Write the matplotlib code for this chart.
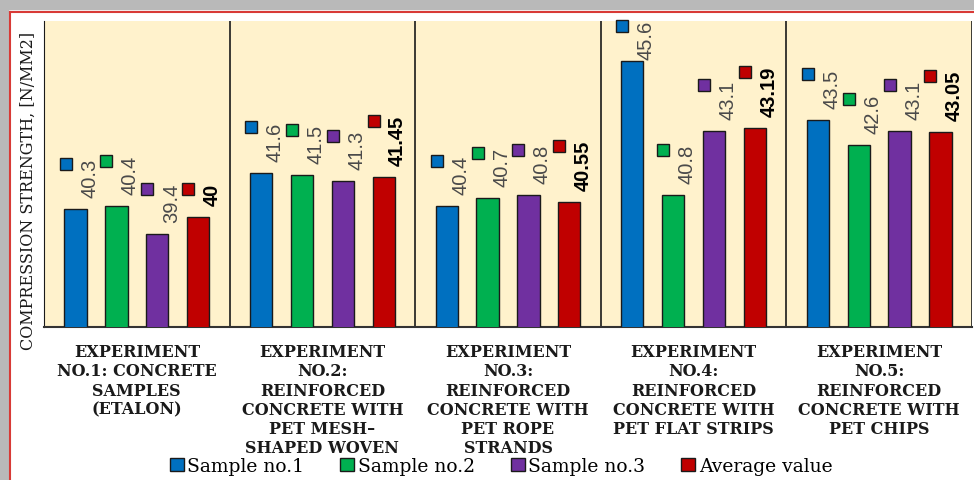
import matplotlib
matplotlib.use("Agg")
import matplotlib.pyplot as plt
import matplotlib.transforms as mtransforms
from matplotlib.patches import Patch, Rectangle
from matplotlib.lines import Line2D
import numpy as np

categories = [
    "EXPERIMENT\nNO.1: CONCRETE\nSAMPLES\n(ETALON)",
    "EXPERIMENT\nNO.2:\nREINFORCED\nCONCRETE WITH\nPET MESH\u2013\nSHAPED WOVEN",
    "EXPERIMENT\nNO.3:\nREINFORCED\nCONCRETE WITH\nPET ROPE\nSTRANDS",
    "EXPERIMENT\nNO.4:\nREINFORCED\nCONCRETE WITH\nPET FLAT STRIPS",
    "EXPERIMENT\nNO.5:\nREINFORCED\nCONCRETE WITH\nPET CHIPS",
]
series_names = ["Sample no.1", "Sample no.2", "Sample no.3", "Average value"]
sample1 = [40.3, 41.6, 40.4, 45.6, 43.5]
sample2 = [40.4, 41.5, 40.7, 40.8, 42.6]
sample3 = [39.4, 41.3, 40.8, 43.1, 43.1]
average = [40, 41.45, 40.55, 43.19, 43.05]
avg_labels = ["40", "41.45", "40.55", "43.19", "43.05"]
colors = ["#0070C0", "#00B050", "#7030A0", "#C00000"]

W, H = 974, 481
fig = plt.figure(figsize=(W / 100, H / 100), dpi=100)
fig.patch.set_facecolor("white")

# screenshot frame: grey band + thin red border
fig.patches.append(Rectangle((0, 1 - 10 / H), 1, 10 / H, transform=fig.transFigure,
                             color="#b9b9b9", zorder=0))
fig.patches.append(Rectangle((0, 0), 8 / W, 1 - 10 / H, transform=fig.transFigure,
                             color="#b9b9b9", zorder=0))
fig.lines.append(Line2D([10 / W, 1], [1 - 13 / H] * 2, transform=fig.transFigure,
                        color="#d83a36", lw=1.5))
fig.lines.append(Line2D([10 / W] * 2, [0, 1 - 13 / H], transform=fig.transFigure,
                        color="#d83a36", lw=1.5))

ax = fig.add_axes([44 / W, 1 - 328 / H, 928 / W, 306 / H])
ax.set_facecolor("#FFF2CC")

x = np.arange(len(categories))
offsets = [-0.33, -0.11, 0.11, 0.33]
series = [sample1, sample2, sample3, average]
labels = [[str(v) for v in s] for s in series[:3]] + [avg_labels]

texts = []
for i, (vals, col) in enumerate(zip(series, colors)):
    bars = ax.bar(x + offsets[i], vals, width=0.12, color=col,
                  edgecolor="#1a1a1a", linewidth=1, zorder=3)
    bold = i == 3
    for b, v, lab in zip(bars, vals, labels[i]):
        t = ax.annotate(lab, xy=(b.get_x() + b.get_width() / 2, v),
                        xytext=(14 * 0.72, 12 * 0.72), textcoords="offset points",
                        rotation=90, ha="center", va="bottom",
                        fontsize=14.5, family="Liberation Sans",
                        fontweight="bold" if bold else "normal",
                        color="black" if bold else "#4a4a4a", zorder=4)
        texts.append((t, b, col))

ax.set_xlim(-0.5, 4.5)
ax.set_ylim(36.07, 47.03)
ax.set_xticks([])
ax.set_yticks([])
for s in ["top", "right"]:
    ax.spines[s].set_visible(False)
ax.spines["left"].set_color("#1a1a1a")
ax.spines["bottom"].set_color("#333333")
ax.spines["bottom"].set_linewidth(1.5)
for xs in [0.5, 1.5, 2.5, 3.5, 4.5]:
    ax.axvline(xs, color="#1a1a1a", lw=1.2, zorder=2)

trans = mtransforms.blended_transform_factory(ax.transData, ax.transAxes)
for i, cat in enumerate(categories):
    ax.text(i, -0.053, cat, transform=trans, ha="center", va="top",
            fontsize=11.5, fontweight="bold", family="DejaVu Serif",
            linespacing=1.17, color="#1a1a1a")

fig.text(28 / W, 1 - 191 / H, "COMPRESSION STRENGTH, [N/MM2]", rotation=90,
         ha="center", va="center", family="DejaVu Serif", fontsize=11.5, color="#1a1a1a")

handles = [Patch(facecolor=c, edgecolor="#1a1a1a", linewidth=1) for c in colors]
fig.legend(handles, series_names, loc="center", bbox_to_anchor=(501 / W, 1 - 467 / H),
           ncol=4, frameon=False, prop={"family": "DejaVu Serif", "size": 13.5},
           handlelength=0.75, handleheight=0.75, handletextpad=0.2,
           columnspacing=1.9, borderpad=0)

# legend-key squares next to the rotated data labels
fig.canvas.draw()
top_px = ax.transAxes.transform((0, 1))[1]
inv = ax.transData.inverted()
for t, b, col in texts:
    bb = t.get_window_extent()
    top = bb.y1
    if top > top_px + 1:
        shift = top - (top_px + 1)
        ox, oy = t.xyann
        t.xyann = (ox, oy - shift * 0.72)
        top = top_px + 1
    cx = ax.transData.transform((b.get_x() + b.get_width() / 2, 0))[0] - 10
    mx, my = inv.transform((cx, top - 6))
    ax.plot(mx, my, marker="s", ms=8, mfc=col, mec="#1a1a1a", mew=1,
            zorder=5, clip_on=False)

fig.savefig("out.png", dpi=100)
